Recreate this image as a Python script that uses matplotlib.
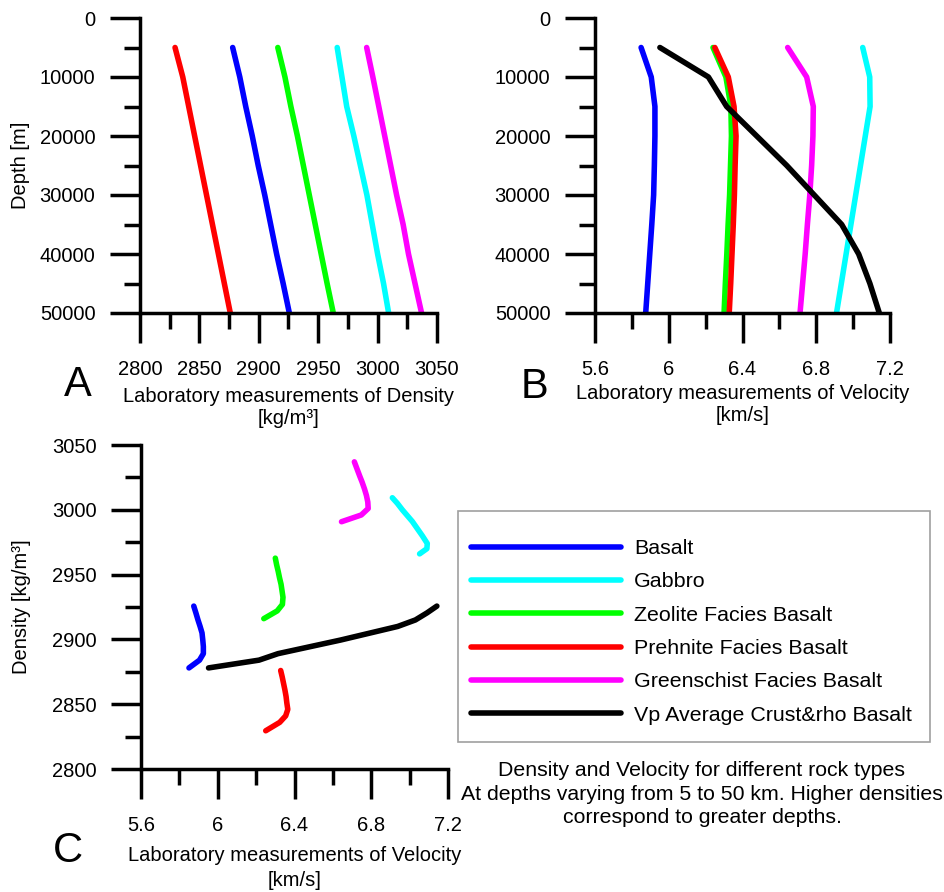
import matplotlib.pyplot as plt
from matplotlib.patches import Rectangle
import numpy as np

plt.rcParams['font.family'] = ['Liberation Sans', 'DejaVu Sans']
plt.rcParams['font.size'] = 14.5

# depths of the lab measurements [m]
depth = [5000, 10000, 15000, 20000, 25000, 30000, 35000, 40000, 45000, 50000]

rock_names = ['Basalt', 'Gabbro', 'Zeolite Facies Basalt',
              'Prehnite Facies Basalt', 'Greenschist Facies Basalt']
rock_colors = ['#0000ff', '#00ffff', '#00ff00', '#ff0000', '#ff00ff']

# density [kg/m3]
dens_basalt = [2878, 2884, 2889, 2894.5, 2899.5, 2905, 2910, 2915, 2920.5, 2925.7]
dens_gabbro = [2966, 2970, 2974, 2980, 2985.5, 2991, 2995.5, 3000, 3005, 3009.3]
dens_zeolite = [2916, 2922, 2927, 2932.5, 2937.5, 2942.5, 2947.5, 2952.5, 2957.5, 2962.7]
dens_prehnite = [2829.5, 2836, 2841, 2846, 2851, 2856, 2861, 2866, 2871, 2876]
dens_greenschist = [2990.8, 2996, 3001, 3006, 3011, 3016, 3021.5, 3026, 3031.5, 3037]

# velocity [km/s]
vel_basalt = [5.85, 5.905, 5.925, 5.925, 5.922, 5.918, 5.908, 5.897, 5.886, 5.875]
vel_gabbro = [7.052, 7.09, 7.092, 7.066, 7.04, 7.014, 6.988, 6.962, 6.936, 6.91]
vel_zeolite = [6.24, 6.31, 6.337, 6.34, 6.335, 6.33, 6.322, 6.315, 6.307, 6.30]
vel_prehnite = [6.25, 6.323, 6.354, 6.365, 6.36, 6.356, 6.35, 6.343, 6.336, 6.328]
vel_greenschist = [6.645, 6.748, 6.784, 6.782, 6.775, 6.765, 6.752, 6.74, 6.726, 6.712]

# average crust Vp
crust_name = 'Vp Average Crust&rho Basalt'
depth_crust = [5000, 10000, 15000, 25000, 35000, 40000, 45000, 50000]
vp_crust = [5.952, 6.215, 6.314, 6.64, 6.938, 7.03, 7.091, 7.142]

dens_all = [dens_basalt, dens_gabbro, dens_zeolite, dens_prehnite, dens_greenschist]
vel_all = [vel_basalt, vel_gabbro, vel_zeolite, vel_prehnite, vel_greenschist]
dens_crust = [dens_basalt[depth.index(z)] for z in depth_crust]

dens_ticks = [2800, 2850, 2900, 2950, 3000, 3050]
dens_labels = ['2800', '2850', '2900', '2950', '3000', '3050']
vel_ticks = [5.6, 6.0, 6.4, 6.8, 7.2]
vel_labels = ['5.6', '6', '6.4', '6.8', '7.2']
depth_ticks = [0, 10000, 20000, 30000, 40000, 50000]
depth_labels = ['0', '10000', '20000', '30000', '40000', '50000']

lw = 4


def style_axis(ax):
    for s in ['top', 'right']:
        ax.spines[s].set_visible(False)
    for s in ['left', 'bottom']:
        ax.spines[s].set_linewidth(2.5)
    ax.tick_params(which='major', length=21.6, width=2.5, direction='out')
    ax.tick_params(which='minor', length=11.5, width=2.5, direction='out')
    ax.tick_params(axis='x', which='major', pad=12)
    ax.tick_params(axis='y', which='major', pad=10.5)


fig = plt.figure(figsize=(9.44, 8.92), dpi=100)

axA = fig.add_axes([140/944, 1-313/892, 297/944, 295/892])
axB = fig.add_axes([595/944, 1-313/892, 295/944, 295/892])
axC = fig.add_axes([141/944, 1-769/892, 307/944, 324/892])

# A: density vs depth
for d, c in zip(dens_all, rock_colors):
    axA.plot(d, depth, color=c, lw=lw, solid_capstyle='round')
axA.set_xlim(2800, 3050)
axA.set_ylim(50000, 0)
axA.set_xticks(dens_ticks, dens_labels)
axA.set_xticks(np.arange(2825, 3050, 50), minor=True)
axA.set_yticks(depth_ticks, depth_labels)
axA.set_yticks(np.arange(5000, 50000, 10000), minor=True)
style_axis(axA)
axA.set_xlabel('Laboratory measurements of Density\n[kg/m\u00b3]', va='center', linespacing=1.2)
axA.xaxis.set_label_coords(0.5, -0.322)
axA.set_ylabel('Depth [m]', va='center')
axA.yaxis.set_label_coords(-0.404, 0.5)

# B: velocity vs depth
for v, c in zip(vel_all, rock_colors):
    axB.plot(v, depth, color=c, lw=lw, solid_capstyle='round')
axB.plot(vp_crust, depth_crust, color='black', lw=lw, solid_capstyle='round')
axB.set_xlim(5.6, 7.2)
axB.set_ylim(50000, 0)
axB.set_xticks(vel_ticks, vel_labels)
axB.set_xticks(np.arange(5.8, 7.2, 0.4), minor=True)
axB.set_yticks(depth_ticks, depth_labels)
axB.set_yticks(np.arange(5000, 50000, 10000), minor=True)
style_axis(axB)
axB.set_xlabel('Laboratory measurements of Velocity\n[km/s]', va='center', linespacing=1.15)
axB.xaxis.set_label_coords(0.5, -0.31)

# C: velocity vs density
handles = []
for v, d, c in zip(vel_all, dens_all, rock_colors):
    h, = axC.plot(v, d, color=c, lw=lw, solid_capstyle='round')
    handles.append(h)
h, = axC.plot(vp_crust, dens_crust, color='black', lw=lw, solid_capstyle='round')
handles.append(h)
axC.set_xlim(5.6, 7.2)
axC.set_ylim(2800, 3050)
axC.set_xticks(vel_ticks, vel_labels)
axC.set_xticks(np.arange(5.8, 7.2, 0.4), minor=True)
axC.set_yticks(dens_ticks, dens_labels)
axC.set_yticks(np.arange(2825, 3050, 50), minor=True)
style_axis(axC)
axC.set_xlabel('Laboratory measurements of Velocity\n[km/s]', va='center', linespacing=1.4)
axC.xaxis.set_label_coords(0.5, -0.307)
axC.set_ylabel('Density [kg/m\u00b3]', va='center')
axC.yaxis.set_label_coords(-0.388, 0.5)

# legend with a plain grey box
fig.legend(handles, rock_names + [crust_name], loc='upper left',
           bbox_to_anchor=(471/944, 1-539/892), frameon=False,
           handlelength=7.0, handletextpad=0.62, labelspacing=0.67,
           borderpad=0, borderaxespad=0, fontsize=15.4)
fig.patches.append(Rectangle((458/944, 1-742/892), 472/944, 231/892,
                             transform=fig.transFigure, fill=False,
                             edgecolor='#a0a0a0', lw=1.2))

fig.text(702/944, 1-794/892,
         'Density and Velocity for different rock types\n'
         'At depths varying from 5 to 50 km. Higher densities\n'
         'correspond to greater depths.',
         ha='center', va='center', fontsize=15.3, linespacing=1.27)

# panel letters
fig.text(78/944, 1-385/892, 'A', fontsize=30, ha='center', va='center')
fig.text(535/944, 1-387/892, 'B', fontsize=30, ha='center', va='center')
fig.text(68/944, 1-851/892, 'C', fontsize=30, ha='center', va='center')

plt.savefig('out.png', dpi=100)
